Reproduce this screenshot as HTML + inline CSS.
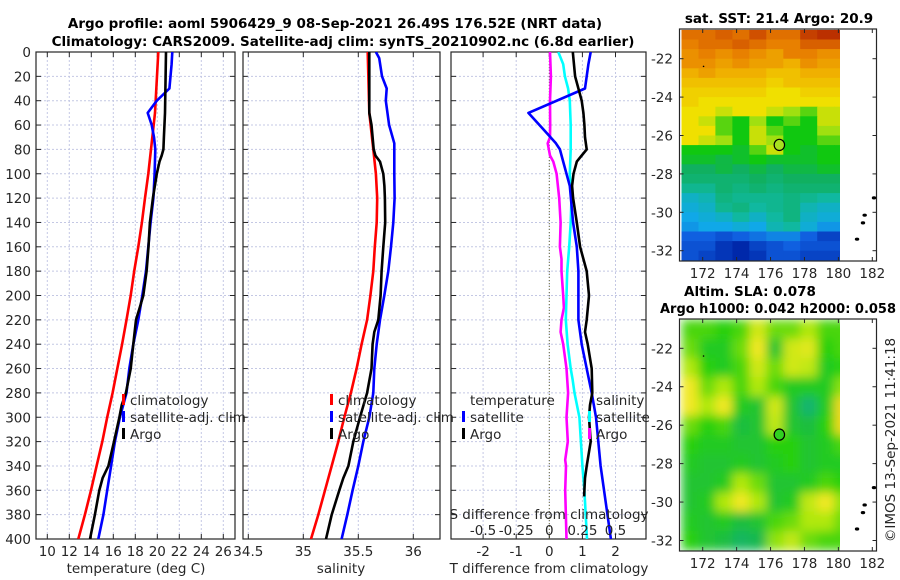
<!DOCTYPE html>
<html><head><meta charset="utf-8">
<style>
html,body{margin:0;padding:0;background:#fff;}
svg{display:block;font-family:"DejaVu Sans","Liberation Sans",sans-serif;}
.tk{font-size:13.5px;fill:#262626;}
.tt{font-size:13.5px;font-weight:bold;fill:#000;}
</style></head>
<body>
<svg id="fig" width="900" height="580" viewBox="0 0 900 580" xmlns="http://www.w3.org/2000/svg">
<defs>
<clipPath id="c1"><rect x="36" y="52" width="199" height="487"/></clipPath>
<clipPath id="c2"><rect x="243" y="52" width="197" height="487"/></clipPath>
<clipPath id="c3"><rect x="451" y="52" width="195" height="487"/></clipPath>
<clipPath id="m1"><rect x="680.5" y="29" width="159.5" height="232"/></clipPath>
<clipPath id="m2"><rect x="680.5" y="319" width="159.5" height="232"/></clipPath>
<filter id="blur" x="-20%" y="-20%" width="140%" height="140%"><feGaussianBlur stdDeviation="5" edgeMode="duplicate"/></filter>
</defs>
<text class="tt" x="335" y="28" text-anchor="middle">Argo profile: aoml 5906429_9 08-Sep-2021 26.49S 176.52E (NRT data)</text>
<text class="tt" x="343" y="46" text-anchor="middle">Climatology: CARS2009. Satellite-adj clim: synTS_20210902.nc (6.8d earlier)</text>
<text class="tt" x="779" y="23" text-anchor="middle">sat. SST: 21.4 Argo: 20.9</text>
<text class="tt" x="684" y="296">Altim. SLA: 0.078</text>
<text class="tt" x="778" y="313" text-anchor="middle" textLength="236" lengthAdjust="spacingAndGlyphs">Argo h1000: 0.042 h2000: 0.058</text>
<text class="tk" transform="translate(895,440) rotate(-90)" text-anchor="middle">©IMOS 13-Sep-2021 11:41:18</text>
<g id="g"></g>
</svg>
<script>
// ---- profile data ----
const depthTicks = [0,20,40,60,80,100,120,140,160,180,200,220,240,260,280,300,320,340,360,380,400];
const tempTicks = [10,12,14,16,18,20,22,24,26];
const salTicks = [34.5,35,35.5,36];
const salTickLabels = ["34.5","35","35.5","36"];
const diffTicks = [-2,-1,0,1,2];
const sDiffTicks = [-0.5,-0.25,0,0.25,0.5];
const sDiffTickLabels = ["-0.5","-0.25","0","0.25","0.5"];

const tClimDepth = [0,50,100,120,140,160,180,200,220,240,260,280,300,320,340,360,380,400];
const tClim = [20.09,19.79,19.18,18.88,18.6,18.27,17.9,17.58,17.2,16.8,16.36,15.94,15.45,15.0,14.48,13.97,13.42,12.82];
const tSatDepth = [0,10,30,40,50,60,70,80,100,120,140,160,180,200,220,240,260,280,300,320,340,360,380,400];
const tSat = [21.36,21.3,21.1,19.95,19.13,19.49,19.7,19.82,19.75,19.65,19.39,19.18,18.97,18.64,18.27,17.82,17.45,17.2,16.6,16.15,15.8,15.45,15.1,14.64];
const tArgoDepth = [0,50,70,80,85,90,100,120,140,160,180,200,210,220,240,260,280,290,300,320,340,350,360,380,400];
const tArgo = [20.79,20.7,20.6,20.55,20.4,20.2,19.95,19.6,19.33,19.2,19.03,18.73,18.4,18.06,17.82,17.58,17.15,16.76,16.55,16.06,15.55,15.03,14.73,14.33,13.88];

const sClimDepth = [0,50,80,100,120,140,160,180,200,220,240,260,280,300,320,340,360,380,400];
const sClim = [35.585,35.6,35.636,35.66,35.672,35.667,35.65,35.636,35.61,35.58,35.53,35.485,35.433,35.373,35.318,35.258,35.197,35.136,35.07];
const sSatDepth = [0,5,20,30,40,60,75,100,120,140,160,180,200,220,240,260,280,300,320,340,360,380,400];
const sSat = [35.66,35.69,35.715,35.758,35.75,35.78,35.827,35.827,35.83,35.818,35.797,35.773,35.736,35.697,35.667,35.645,35.636,35.6,35.545,35.5,35.448,35.4,35.348];
const sArgoDepth = [0,50,60,80,85,90,100,110,120,140,160,180,200,220,230,240,260,280,300,320,340,350,360,380,400];
const sArgo = [35.6,35.6,35.62,35.64,35.655,35.697,35.727,35.737,35.742,35.745,35.727,35.712,35.703,35.682,35.645,35.63,35.62,35.58,35.515,35.455,35.41,35.364,35.327,35.258,35.206];

const dTSatDepth = [0,10,20,30,50,65,75,80,90,100,110,140,160,180,200,220,240,260,280,300,340,400];
const dTSat = [1.25,1.18,1.13,1.08,-0.63,-0.13,0.2,0.32,0.42,0.52,0.62,0.72,0.83,0.88,0.88,0.88,0.98,1.13,1.28,1.41,1.55,1.86];
const dTArgoDepth = [0,20,30,40,50,60,70,80,85,90,100,110,120,140,160,170,180,200,220,230,240,260,280,290,300,320,340,350,365];
const dTArgo = [0.71,0.78,0.88,0.98,1.03,1.06,1.08,1.13,0.98,0.83,0.73,0.69,0.72,0.83,0.93,1.03,1.13,1.2,1.13,1.08,1.16,1.28,1.3,1.23,1.2,1.25,1.13,1.08,1.05];
const dSSatDepth = [0,10,20,30,40,60,80,100,120,140,160,180,200,220,240,260,269,280,300,340,360,400];
const dSSat = [0.068,0.105,0.118,0.142,0.155,0.162,0.162,0.155,0.168,0.162,0.15,0.135,0.13,0.125,0.138,0.162,0.176,0.19,0.227,0.25,0.265,0.285];
const dSArgoDepth = [0,20,40,60,70,75,85,90,100,120,140,160,170,180,200,210,220,230,240,260,280,300,320,335,340,360,400];
const dSArgo = [0.005,0.012,0.005,0.007,0.005,-0.012,0.005,0.03,0.055,0.075,0.085,0.08,0.092,0.092,0.105,0.11,0.092,0.085,0.105,0.13,0.142,0.13,0.14,0.12,0.126,0.12,0.13];

// ---- map data ----
const lonTicks = [172,174,176,178,180,182];
const latTicks = [-22,-24,-26,-28,-30,-32];
const sstLatCenters = [-20.75,-21.25,-21.75,-22.25,-22.75,-23.25,-23.75,-24.25,-24.75,-25.25,-25.75,-26.25,-26.75,-27.25,-27.75,-28.25,-28.75,-29.25,-29.75,-30.25,-30.75,-31.25,-31.75,-32.25];
const sstLonCenters = [171.25,172.25,173.25,174.25,175.25,176.25,177.25,178.25,179.25,180.25];
const sstGrid = [
[22.0,22.0,22.1,22.0,22.2,22.0,22.0,22.3,22.4,22.4],
[21.9,22.0,22.0,22.1,22.0,21.9,21.9,22.1,22.1,22.1],
[21.8,21.9,21.8,21.9,21.8,21.7,21.9,21.9,21.8,21.8],
[21.8,21.8,21.7,21.8,21.7,21.7,21.6,21.8,21.7,21.7],
[21.6,21.7,21.6,21.6,21.6,21.5,21.5,21.6,21.6,21.6],
[21.5,21.5,21.5,21.5,21.5,21.4,21.5,21.5,21.5,21.5],
[21.4,21.4,21.4,21.4,21.4,21.3,21.3,21.4,21.4,21.4],
[21.4,21.3,21.3,21.3,21.3,21.3,21.3,21.3,21.3,21.3],
[21.3,21.3,21.2,21.3,21.3,21.2,21.1,21.0,21.2,21.2],
[21.3,21.2,21.0,20.9,21.1,20.9,21.0,20.9,21.2,21.2],
[21.3,21.3,21.0,20.9,21.2,21.0,20.9,20.9,21.1,21.1],
[21.3,21.2,21.1,20.9,21.2,21.1,20.9,20.9,21.0,21.0],
[20.9,20.9,20.9,20.8,21.0,21.2,20.9,20.8,20.9,20.9],
[20.8,20.8,20.7,20.8,20.9,20.8,20.8,20.8,20.9,20.9],
[20.6,20.6,20.7,20.6,20.7,20.6,20.7,20.7,20.8,20.8],
[20.5,20.5,20.5,20.5,20.6,20.5,20.6,20.6,20.6,20.6],
[20.3,20.3,20.5,20.4,20.5,20.4,20.5,20.5,20.5,20.5],
[20.0,20.1,20.4,20.3,20.3,20.3,20.4,20.3,20.2,20.2],
[19.9,20.0,20.3,20.4,20.2,20.3,20.4,20.1,20.0,20.0],
[19.8,19.9,20.0,20.2,20.0,20.2,20.4,20.0,19.9,19.9],
[19.7,19.8,19.8,19.9,19.8,20.1,20.2,19.9,19.7,19.7],
[19.4,19.4,19.3,19.4,19.5,19.6,19.6,19.4,19.2,19.2],
[19.3,19.3,19.1,19.0,19.2,19.3,19.4,19.3,19.3,19.3],
[19.3,19.2,19.1,19.0,19.1,19.3,19.3,19.2,19.2,19.2]];
const slaLatCenters = [-21,-22,-23,-24,-25,-26,-27,-28,-29,-30,-31,-32];
const slaLonCenters = [171.25,172.25,173.25,174.25,175.25,176.25,177.25,178.25,179.25,180.25];
const slaGrid = [
[0.05,0.05,0.04,0.05,0.10,0.06,0.06,0.08,0.05,0.05],
[0.06,0.03,0.03,0.06,0.12,0.02,0.10,0.11,0.04,0.05],
[0.08,0.04,0.03,0.05,0.10,0.06,0.10,0.09,0.03,0.04],
[0.12,0.06,0.08,0.05,0.08,0.05,0.03,0.03,0.03,0.07],
[0.12,0.08,0.12,0.03,0.02,0.10,0.02,-0.02,0.03,0.13],
[0.06,0.04,0.05,0.01,0.02,0.09,0.02,0.01,0.04,0.13],
[0.04,0.03,0.03,0.02,0.02,0.04,0.04,0.02,0.03,0.05],
[0.03,0.02,0.02,0.03,0.02,0.03,0.04,0.02,0.03,0.03],
[0.02,0.02,0.03,0.08,0.06,0.02,0.02,0.03,0.05,0.04],
[0.02,0.03,0.08,0.12,0.08,0.02,0.03,0.09,0.12,0.07],
[0.03,0.02,0.03,0.01,0.02,0.05,0.06,0.08,0.08,0.06],
[0.04,0.02,0.01,-0.01,0.00,0.07,0.09,0.06,0.05,0.05]];
const argoLon = [176.52];
const argoLat = [-26.49];
const islandLon = [181.1,181.45,181.55,182.1,172.05];
const islandLat = [-31.4,-30.55,-30.15,-29.25,-22.4];

const NS = "http://www.w3.org/2000/svg";
const G = document.getElementById('g');
function el(tag, attrs, parent){const e=document.createElementNS(NS,tag);for(const k in attrs)e.setAttribute(k,attrs[k]);(parent||G).appendChild(e);return e;}

const Y0=52, Y1=539;
const yD = d => Y0 + d*1.2175;
const x1 = t => 47.3 + (t-10)*11;
const x2 = s => 303.3 + (s-35)*110;
const x3 = t => 549.3 + t*33.1;
const x3s = s => 549.3 + s*132.4;
const mx = lon => 702.7 + (lon-172)*16.96;
const my1 = lat => 58.7 + (-22-lat)*19.2;
const my2 = lat => 348.3 + (-22-lat)*19.22;

function panel(xa,xb,xs,ticks,labels,name){
  const g=el('g',{});
  
  
  depthTicks.forEach(d=>{
    el('line',{x1:xa,x2:xb,y1:yD(d),y2:yD(d),stroke:'#c4c8e4','stroke-width':1,'stroke-dasharray':'2,2'},g);
    el('line',{x1:xa,x2:xa+5,y1:yD(d),y2:yD(d),stroke:'#262626'},g);
    el('line',{x1:xb-5,x2:xb,y1:yD(d),y2:yD(d),stroke:'#262626'},g);
  });
  ticks.forEach((t,i)=>{
    const x=xs(t);
    el('line',{x1:x,x2:x,y1:Y0,y2:Y1,stroke:'#c4c8e4','stroke-width':1,'stroke-dasharray':'2,2'},g);
    el('line',{x1:x,x2:x,y1:Y1-5,y2:Y1,stroke:'#262626'},g);
    el('line',{x1:x,x2:x,y1:Y0,y2:Y0+5,stroke:'#262626'},g);
    const tx=el('text',{x:x,y:556,'text-anchor':'middle',class:'tk'},g);
    tx.textContent=labels?labels[i]:String(t);
    
    
  });
  el('rect',{x:xa,y:Y0,width:xb-xa,height:Y1-Y0,fill:'none',stroke:'#262626','stroke-width':1.2},g);
  return g;
}

function line(xs,vals,depths,color,name,clip){
  const pts=vals.map((v,i)=>xs(v).toFixed(1)+','+yD(depths[i]).toFixed(1)).join(' ');
  const p=el('polyline',{points:pts,fill:'none',stroke:color,'stroke-width':2.6,'stroke-linejoin':'round','clip-path':'url(#'+clip+')'});
  
  
}

function legendItem(x,y,color,label,name){
  el('rect',{x:x,y:y-11,width:3,height:11,fill:color});
  const t=el('text',{x:x+8,y:y,class:'tk'});
  t.textContent=label;
  
  
}

depthTicks.forEach(d=>{
  const t=el('text',{x:31,y:yD(d)+5,'text-anchor':'end',class:'tk'});
  t.textContent=String(d);
  
  
});

panel(36,235,x1,tempTicks,null,'temperature-panel');
panel(243,440,x2,salTicks,salTickLabels,'salinity-panel');
panel(451,646,x3,diffTicks,null,'difference-panel');

el('line',{x1:x3(0),x2:x3(0),y1:Y0,y2:Y1,stroke:'#6b6b3a','stroke-width':1,'stroke-dasharray':'1,2'});

line(x1,tClim,tClimDepth,'#ff0000','temp-climatology-line','c1');
line(x1,tSat,tSatDepth,'#0000ff','temp-satellite-line','c1');
line(x1,tArgo,tArgoDepth,'#000000','temp-argo-line','c1');
line(x2,sClim,sClimDepth,'#ff0000','sal-climatology-line','c2');
line(x2,sSat,sSatDepth,'#0000ff','sal-satellite-line','c2');
line(x2,sArgo,sArgoDepth,'#000000','sal-argo-line','c2');
line(x3s,dSArgo,dSArgoDepth,'#ff00ff','s-diff-argo-line','c3');
line(x3s,dSSat,dSSatDepth,'#00ffff','s-diff-satellite-line','c3');
line(x3,dTSat,dTSatDepth,'#0000ff','t-diff-satellite-line','c3');
line(x3,dTArgo,dTArgoDepth,'#000000','t-diff-argo-line','c3');

legendItem(122,405,'#ff0000','climatology','legend-climatology');
legendItem(122,422,'#0000ff','satellite-adj. clim','legend-satellite');
legendItem(122,439,'#000000','Argo','legend-argo');
legendItem(330,405,'#ff0000','climatology','legend-climatology-sal');
legendItem(330,422,'#0000ff','satellite-adj. clim','legend-satellite-sal');
legendItem(330,439,'#000000','Argo','legend-argo-sal');
(function(){const t=el('text',{x:470,y:405,class:'tk'});t.textContent='temperature';


const s=el('text',{x:596,y:405,class:'tk'});s.textContent='salinity';

})();
legendItem(462,422,'#0000ff','satellite','legend-t-satellite');
legendItem(462,439,'#000000','Argo','legend-t-argo');
legendItem(588,422,'#00ffff','satellite','legend-s-satellite');
legendItem(588,439,'#ff00ff','Argo','legend-s-argo');

(function(){
  const t=el('text',{x:549,y:519,'text-anchor':'middle',class:'tk'});t.textContent='S difference from climatology';
  
  
  sDiffTicks.forEach((s,i)=>{
    const l=el('text',{x:x3s(s),y:535,'text-anchor':'middle',class:'tk'});l.textContent=sDiffTickLabels[i];
    
    
  });
})();

[['temperature (deg C)',136,'temp-axis-title'],['salinity',341,'sal-axis-title'],['T difference from climatology',549,'t-diff-axis-title']].forEach(a=>{
  const t=el('text',{x:a[1],y:573,'text-anchor':'middle',class:'tk'});t.textContent=a[0];
  
  
});

function color(stops,v){
  if(v<=stops[0][0])return 'rgb('+stops[0][1].join(',')+')';
  for(let i=1;i<stops.length;i++){if(v<=stops[i][0]){const a=stops[i-1],b=stops[i],f=(v-a[0])/(b[0]-a[0]);
    const c=a[1].map((x,k)=>Math.round(x+(b[1][k]-x)*f));return 'rgb('+c.join(',')+')';}}
  return 'rgb('+stops[stops.length-1][1].join(',')+')';
}
const sstStops=[[19.0,[0,40,170]],[19.4,[16,96,224]],[19.8,[16,168,232]],[20.2,[16,184,160]],[20.6,[16,176,96]],[20.9,[16,200,16]],[21.1,[160,224,16]],[21.3,[240,224,0]],[21.6,[240,176,0]],[21.9,[232,128,0]],[22.2,[208,80,0]],[22.5,[176,32,0]]];
const slaStops=[[-0.04,[16,176,144]],[0.0,[24,184,80]],[0.04,[40,208,16]],[0.08,[176,232,16]],[0.12,[240,232,32]],[0.16,[240,176,32]]];

function map(grid,latC,lonC,dLat,my,stops,clip,name,ytop,blur,markerFill){
  const g=el('g',{'clip-path':'url(#'+clip+')'});
  
  
  const inner=el('g',blur?{filter:'url(#blur)'}:{},g);
  grid.forEach((row,i)=>row.forEach((v,j)=>{
    const xa=mx(lonC[j]-0.5), xb=mx(lonC[j]+0.5);
    const ya=my(latC[i]+dLat/2), yb=my(latC[i]-dLat/2);
    const r=el('rect',{x:xa.toFixed(1),y:ya.toFixed(1),width:(xb-xa+0.6).toFixed(1),height:(yb-ya+0.6).toFixed(1),fill:color(stops,v)},inner);
    
    
  }));
  const f=el('g',{});
  
  
  el('rect',{x:679.5,y:ytop,width:197,height:232,fill:'none',stroke:'#262626','stroke-width':1.2},f);
  lonTicks.forEach(l=>{
    const x=mx(l);
    el('line',{x1:x,x2:x,y1:ytop+232-4,y2:ytop+232,stroke:'#262626'},f);
    el('line',{x1:x,x2:x,y1:ytop,y2:ytop+4,stroke:'#262626'},f);
    const t=el('text',{x:x,y:ytop+249,'text-anchor':'middle',class:'tk'},f);t.textContent=String(l);
    
    
  });
  latTicks.forEach(l=>{
    const y=my(l);
    el('line',{x1:679.5,x2:683.5,y1:y,y2:y,stroke:'#262626'},f);
    el('line',{x1:872.5,x2:876.5,y1:y,y2:y,stroke:'#262626'},f);
    const t=el('text',{x:673,y:y+5,'text-anchor':'end',class:'tk'},f);t.textContent=String(l);
    
    
  });
  islandLon.forEach((lo,i)=>{
    const d=el('ellipse',{cx:mx(lo),cy:my(islandLat[i]),rx:i==4?0.8:2.2,ry:i==4?0.8:1.6,fill:'#000'});
    
    
  });
  argoLon.forEach((lo,i)=>{
    const c=el('ellipse',{cx:mx(lo),cy:my(argoLat[i]),rx:5.2,ry:5.6,fill:markerFill,stroke:'#000','stroke-width':1.2});
    
    
  });
}
map(sstGrid,sstLatCenters,sstLonCenters,0.5,my1,sstStops,'m1','sst-map',29,false,'#a8e020');
map(slaGrid,slaLatCenters,slaLonCenters,1,my2,slaStops,'m2','sla-map',319,true,'#30d020');
</script>
</body></html>
